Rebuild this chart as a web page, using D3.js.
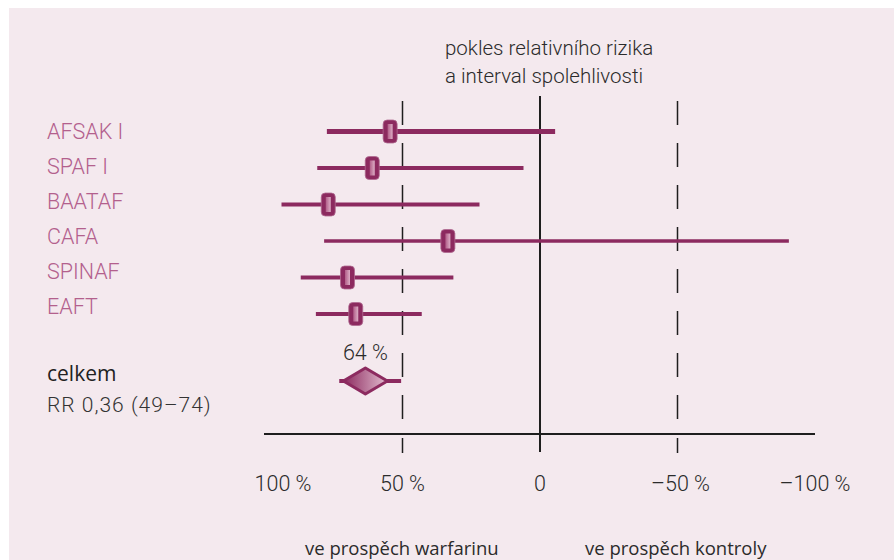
<!DOCTYPE html>
<html><head><meta charset="utf-8">
<script src="https://cdn.jsdelivr.net/npm/d3@7"></script>
<style>
html,body{margin:0;padding:0;background:#fff;}
svg{display:block;}
</style></head>
<body>
<script>
// ---- data ----
const studies = ["AFSAK I", "SPAF I", "BAATAF", "CAFA", "SPINAF", "EAFT"];
const rrr     = [54.5, 61, 77, 33.5, 70, 67];          // relative risk reduction (%)
const ciLow   = [77.5, 81, 94, 78.5, 87, 81.5];        // CI end toward warfarin
const ciHigh  = [-5.5, 6, 22, -90.5, 31.5, 43];        // CI end toward control
const lineW   = [5, 4, 4, 3.5, 4, 4];
const overallPoint = 63.5;
const overallDiamond = [71.5, 55.5];
const overallCI = [73, 50.5];
const overallLabel = "64 %";
const tickValues = [100, 50, 0, -50, -100];
const tickLabels = ["100 %", "50 %", "0", "–50 %", "–100 %"];
const refLines = [50, -50];
const titleLines = ["pokles relativního rizika", "a interval spolehlivosti"];
const summaryLines = ["celkem", "RR 0,36 (49–74)"];
const favourLabels = ["ve prospěch warfarinu", "ve prospěch kontroly"];

const W = 896, H = 560;
const bar = "#8c2a5f", labelCol = "#b3608d", ink = "#2b2b2b";
const light = "Roboto,'Liberation Sans',Arial,sans-serif";

const svg = d3.select("body").append("svg").attr("width", W).attr("height", H);
const defs = svg.append("defs");
const g1 = defs.append("linearGradient").attr("id","mk").attr("x1","0").attr("x2","1");
g1.append("stop").attr("offset","0").attr("stop-color","#b15d88");
g1.append("stop").attr("offset","1").attr("stop-color","#dcaec5");
const g2 = defs.append("linearGradient").attr("id","dia").attr("x1","0").attr("x2","1");
g2.append("stop").attr("offset","0").attr("stop-color","#8c2a5f");
g2.append("stop").attr("offset","1").attr("stop-color","#e2bccf");

svg.append("rect").attr("x",9).attr("y",8).attr("width",W-11).attr("height",H-8).attr("fill","#f4e9ee");

const x = d3.scaleLinear().domain([100, -100]).range([265, 815]);
const yBar = d3.scalePoint().domain(studies).range([131.5, 314]);
const yLab = d3.scalePoint().domain(studies).range([131, 306]);

// title
svg.append("g").selectAll("text").data(titleLines).join("text")
  .attr("x", 445).attr("y", (d,i) => 55 + i*28)
  .attr("font-family", light).attr("font-weight", 300).attr("font-size", 20.5)
  .attr("fill", ink).text(d => d);

// reference dashed lines
svg.append("g").selectAll("line").data(refLines).join("line")
  .attr("x1", d => x(d)).attr("x2", d => x(d)).attr("y1", 101).attr("y2", 420)
  .attr("stroke", "#1e1e1e").attr("stroke-width", 1.5).attr("stroke-dasharray", "24 18");

// zero line
svg.append("line").attr("x1", x(0)).attr("x2", x(0)).attr("y1", 96).attr("y2", 452)
  .attr("stroke", "#1e1e1e").attr("stroke-width", 2);

// axis
const axis = svg.append("g").attr("transform", "translate(0,434)");
axis.append("line").attr("x1", x(100)-1).attr("x2", x(-100)).attr("stroke", "#1e1e1e").attr("stroke-width", 2);
axis.selectAll("line.tk").data(refLines).join("line").attr("class","tk")
  .attr("x1", d => x(d)).attr("x2", d => x(d)).attr("y1", 4).attr("y2", 19)
  .attr("stroke", "#1e1e1e").attr("stroke-width", 1.5);
axis.selectAll("text").data(tickValues).join("text")
  .attr("x", d => x(d)).attr("dx", (d,i) => i === 0 ? 18 : (i === 3 ? 3 : 0))
  .attr("y", 57).attr("text-anchor", "middle")
  .attr("font-family", light).attr("font-weight", 300).attr("font-size", 21.5).attr("fill", ink)
  .text((d,i) => tickLabels[i]);

// study labels
svg.append("g").selectAll("text").data(studies).join("text")
  .attr("x", 47).attr("y", d => yLab(d) + 7.5)
  .attr("font-family", light).attr("font-weight", 300).attr("font-size", 21.5)
  .attr("fill", labelCol).text(d => d);

// CI lines
svg.append("g").selectAll("line").data(studies).join("line")
  .attr("x1", (d,i) => x(ciLow[i])).attr("x2", (d,i) => x(ciHigh[i]))
  .attr("y1", d => yBar(d)).attr("y2", d => yBar(d))
  .attr("stroke", bar).attr("stroke-width", (d,i) => lineW[i]);

// markers
const mk = svg.append("g").selectAll("g").data(studies).join("g")
  .attr("transform", (d,i) => `translate(${x(rrr[i])},${yBar(d)})`);
mk.append("rect").attr("x", -7).attr("y", -11.5).attr("width", 14).attr("height", 23).attr("rx", 4)
  .attr("fill", bar).attr("stroke", "#b06a90").attr("stroke-width", 0.8);
mk.append("rect").attr("x", -2.5).attr("y", -7.5).attr("width", 5).attr("height", 15)
  .attr("fill", "url(#mk)");

// overall
const yO = 381;
svg.append("line").attr("x1", x(overallCI[0])).attr("x2", x(overallCI[1])).attr("y1", yO).attr("y2", yO)
  .attr("stroke", bar).attr("stroke-width", 4);
const cx = x(overallPoint), l = x(overallDiamond[0]), r = x(overallDiamond[1]);
svg.append("path").attr("d", `M${l},${yO} L${cx},${yO-13} L${r},${yO} L${cx},${yO+13} Z`)
  .attr("fill", "url(#dia)").attr("stroke", bar).attr("stroke-width", 3).attr("stroke-linejoin", "round");
svg.append("text").attr("x", cx).attr("y", 360).attr("text-anchor", "middle")
  .attr("font-family", light).attr("font-weight", 300).attr("font-size", 21.5).attr("fill", ink).text(overallLabel);

// summary
svg.append("text").attr("x", 47).attr("y", 381)
  .attr("font-family", "'Open Sans',sans-serif").attr("font-weight", 500)
  .attr("font-size", 21).attr("fill", "#222").text(summaryLines[0]);
svg.append("text").attr("x", 47).attr("y", 412)
  .attr("font-family", light).attr("font-weight", 300).attr("letter-spacing", 1)
  .attr("font-size", 21).attr("fill", "#333").text(summaryLines[1]);

// favour labels
svg.append("g").selectAll("text").data(favourLabels).join("text")
  .attr("x", (d,i) => i === 0 ? 305 : 585).attr("y", 555)
  .attr("font-family", "'Open Sans',sans-serif").attr("font-size", 18.5).attr("fill", ink).text(d => d);
</script>
</body></html>
